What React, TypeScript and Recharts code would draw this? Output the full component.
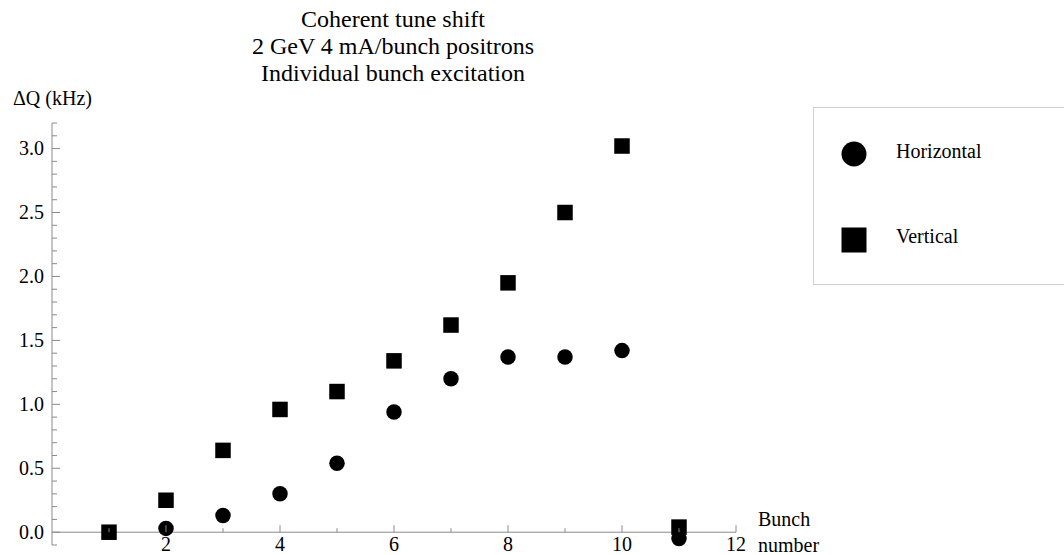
import React from "react";
import { ScatterChart, Scatter, XAxis, YAxis, ReferenceLine } from "recharts";

// --- data ---

const bunchHorizontal = [2, 3, 4, 5, 6, 7, 8, 9, 10, 11];
const horizontalKHz = [0.03, 0.13, 0.3, 0.54, 0.94, 1.2, 1.37, 1.37, 1.42, -0.05];

const bunchVertical = [1, 2, 3, 4, 5, 6, 7, 8, 9, 10, 11];
const verticalKHz = [0, 0.25, 0.64, 0.96, 1.1, 1.34, 1.62, 1.95, 2.5, 3.02, 0.04];

const xTicks = [1, 2, 3, 4, 5, 6, 7, 8, 9, 10, 11, 12];
const xLabelled = [2, 4, 6, 8, 10, 12];

const yTicks = [
  -0.1, 0, 0.1, 0.2, 0.3, 0.4, 0.5, 0.6, 0.7, 0.8, 0.9, 1, 1.1, 1.2, 1.3, 1.4, 1.5, 1.6,
  1.7, 1.8, 1.9, 2, 2.1, 2.2, 2.3, 2.4, 2.5, 2.6, 2.7, 2.8, 2.9, 3, 3.1, 3.2,
];
const yLabelled = [0, 0.5, 1, 1.5, 2, 2.5, 3];

const titleLines = ["Coherent tune shift", "2 GeV 4 mA/bunch positrons", "Individual bunch excitation"];
const seriesNames = ["Horizontal", "Vertical"];

// --- layout ---

const W = 1064;
const H = 555;
const X_AXIS_H = 10;
const MARGIN = { top: 123, right: 328, bottom: 0, left: 0 };
const X_DOMAIN: [number, number] = [0, 12];
const Y_DOMAIN: [number, number] = [-0.1, 3.2];
const AXIS = "#8a8a8a";
const FONT = '"Liberation Serif", "Times New Roman", serif';

const plotHeight = H - MARGIN.top - MARGIN.bottom - X_AXIS_H;
// the x axis sits at y = 0, not at the bottom of the plot area
const zeroLift = ((0 - Y_DOMAIN[0]) / (Y_DOMAIN[1] - Y_DOMAIN[0])) * plotHeight;

const horizontalData = bunchHorizontal.map((b, i) => ({ x: b, y: horizontalKHz[i] }));
const verticalData = bunchVertical.map((b, i) => ({ x: b, y: verticalKHz[i] }));

const MARK = 15.5;

function CircleMark({ cx, cy }: any) {
  return <circle cx={cx} cy={cy} r={MARK / 2} fill="#000" />;
}

function SquareMark({ cx, cy }: any) {
  return <rect x={cx - MARK / 2} y={cy - MARK / 2} width={MARK} height={MARK} fill="#000" />;
}

function YTick({ x, y, payload }: any) {
  const major = yLabelled.includes(payload.value);
  return (
    <g>
      <line x1={x} x2={x + (major ? 8 : 5)} y1={y} y2={y} stroke={AXIS} />
      {major && (
        <text x={x - 8} y={y + 6.5} textAnchor="end" fontSize={20} fontFamily={FONT} fill="#000">
          {payload.value.toFixed(1)}
        </text>
      )}
    </g>
  );
}

function XTick({ x, y, payload }: any) {
  const y0 = y - zeroLift;
  const major = xLabelled.includes(payload.value);
  return (
    <g>
      <line x1={x} x2={x} y1={y0} y2={y0 - (major ? 7 : 4)} stroke={AXIS} />
      {major && (
        <text x={x} y={y0 + 19} textAnchor="middle" fontSize={20} fontFamily={FONT} fill="#000">
          {payload.value}
        </text>
      )}
    </g>
  );
}

export default function App() {
  return (
    <div style={{ position: "absolute", left: 0, top: 0, width: W, height: H, overflow: "hidden", background: "#fff" }}>
      <ScatterChart width={W} height={H} margin={MARGIN}>
        <XAxis
          type="number"
          dataKey="x"
          domain={X_DOMAIN}
          ticks={xTicks}
          interval={0}
          height={X_AXIS_H}
          tickSize={0}
          tickMargin={0}
          axisLine={false}
          tickLine={false}
          tick={<XTick />}
        />
        <YAxis
          type="number"
          dataKey="y"
          domain={Y_DOMAIN}
          ticks={yTicks}
          interval={0}
          width={52}
          tickSize={0}
          tickMargin={0}
          axisLine={{ stroke: AXIS }}
          tickLine={false}
          tick={<YTick />}
        />
        <ReferenceLine y={0} stroke={AXIS} />
        <Scatter name={seriesNames[0]} data={horizontalData} shape={<CircleMark />} isAnimationActive={false} />
        <Scatter name={seriesNames[1]} data={verticalData} shape={<SquareMark />} isAnimationActive={false} />
      </ScatterChart>

      <svg width={W} height={H} style={{ position: "absolute", left: 0, top: 0, pointerEvents: "none" }}>
        <g fontFamily={FONT} fill="#000">
          {titleLines.map((line, i) => (
            <text key={line} x={393} y={27 + i * 27} textAnchor="middle" fontSize={24}>
              {line}
            </text>
          ))}
          <text x={13} y={105} fontSize={20}>ΔQ (kHz)</text>
          <text x={758} y={526} fontSize={20}>Bunch</text>
          <text x={758} y={552} fontSize={20}>number</text>
        </g>
        {/* legend box, runs off the right edge */}
        <rect x={813.5} y={107.5} width={270} height={177} fill="#fff" stroke="#d0d0d0" />
        <circle cx={854} cy={154} r={12.5} fill="#000" />
        <rect x={841.5} y={227.5} width={25} height={25} fill="#000" />
        <g fontFamily={FONT} fontSize={20} fill="#000">
          <text x={896} y={158}>{seriesNames[0]}</text>
          <text x={896} y={243}>{seriesNames[1]}</text>
        </g>
      </svg>
    </div>
  );
}
